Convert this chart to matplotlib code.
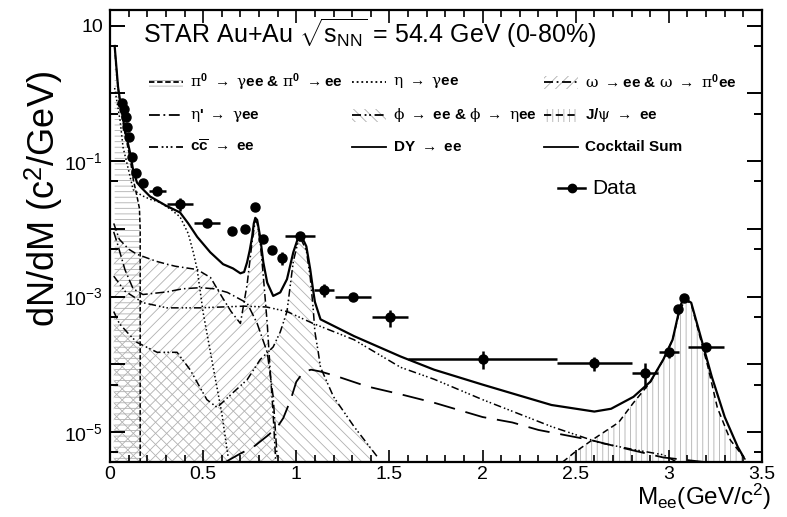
import matplotlib
matplotlib.use("Agg")
import matplotlib.pyplot as plt
from matplotlib.lines import Line2D
from matplotlib.patches import Rectangle
from matplotlib.ticker import MultipleLocator, FixedLocator, FuncFormatter, NullFormatter

plt.rcParams["font.family"] = "Liberation Sans"
plt.rcParams["mathtext.fontset"] = "custom"
plt.rcParams["mathtext.rm"] = "Liberation Sans"
plt.rcParams["mathtext.bf"] = "Liberation Sans:bold"
plt.rcParams["mathtext.it"] = "DejaVu Serif"
plt.rcParams["hatch.linewidth"] = 0.6
plt.rcParams["axes.linewidth"] = 1.6

# ---- data points (mass, dN/dM, errors) ----
data_m = [0.065, 0.075, 0.086, 0.091, 0.102, 0.118, 0.14, 0.177, 0.253, 0.376, 0.52,
          0.656, 0.726, 0.776, 0.823, 0.871, 0.925, 1.02, 1.15, 1.306, 1.505,
          2.0, 2.6, 2.87, 3.0, 3.05, 3.08, 3.2]
data_y = [0.73, 0.59, 0.45, 0.32, 0.23, 0.116, 0.067, 0.048, 0.036, 0.023, 0.012,
          0.0093, 0.0100, 0.021, 0.0071, 0.0049, 0.0037, 0.0079, 0.00126, 0.0010, 0.00049,
          1.2e-4, 1.05e-4, 7.4e-5, 1.5e-4, 6.6e-4, 9.5e-4, 1.8e-4]
data_xerr = [0, 0, 0, 0, 0, 0, 0, 0, 0.045, 0.07, 0.07,
             0, 0, 0, 0, 0, 0, 0.08, 0.054, 0.096, 0.096,
             0.4, 0.2, 0.07, 0.054, 0, 0, 0.096]
data_yerr = [0.02, 0.02, 0.015, 0.01, 0.008, 0.004, 0.003, 0.002, 0.002, 0.005, 0.0015,
             0.0008, 0.0008, 0.0015, 0.0008, 0.0007, 0.0008, 0.0006, 0.00028, 0.00012, 0.00014,
             3.5e-5, 2.5e-5, 3e-5, 2.5e-5, 5e-5, 5e-5, 2e-5]

# ---- cocktail components ----
pi0_m = [0.025, 0.043, 0.059, 0.08, 0.108, 0.124, 0.145, 0.158, 0.162, 0.162]
pi0_y = [4.7, 1.2, 0.58, 0.26, 0.11, 0.055, 0.03, 0.02, 0.01, 1e-7]

eta_m = [0.025, 0.054, 0.07, 0.09, 0.124, 0.17, 0.22, 0.27, 0.33, 0.376, 0.42, 0.447,
         0.468, 0.5, 0.554, 0.6, 0.634]
eta_y = [1.2, 0.4, 0.16, 0.095, 0.038, 0.031, 0.027, 0.0245, 0.019, 0.015, 0.0085, 0.0045,
         0.0025, 5.8e-4, 9e-5, 1.9e-5, 4.3e-6]

omega_m = [0.02, 0.05, 0.1, 0.145, 0.25, 0.306, 0.35, 0.468, 0.54, 0.6, 0.65, 0.7, 0.736,
           0.763, 0.78, 0.79, 0.806, 0.823, 0.844, 0.86, 0.875, 0.89]
omega_y = [0.012, 0.007, 0.005, 0.0042, 0.0033, 0.0030, 0.0028, 0.0025, 0.0019, 0.001,
           6e-4, 4e-4, 1.5e-3, 6.5e-3, 0.0132, 0.0122, 6.5e-3, 2e-3, 4e-4, 8e-5, 2e-5, 3.6e-6]

etap_m = [0.02, 0.04, 0.08, 0.124, 0.177, 0.306, 0.39, 0.484, 0.56, 0.63, 0.736, 0.79,
          0.844, 0.876, 0.897]
etap_y = [9e-3, 6e-3, 2.5e-3, 1.3e-3, 1.07e-3, 1.17e-3, 1.3e-3, 1.35e-3, 1.3e-3, 1.15e-3,
          8e-4, 4e-4, 1.5e-4, 3.3e-5, 4.3e-6]

phi_m = [0.02, 0.05, 0.1, 0.145, 0.253, 0.36, 0.43, 0.52, 0.575, 0.66, 0.736, 0.806, 0.876,
         0.914, 0.95, 0.984, 1.01, 1.02, 1.03, 1.054, 1.075, 1.09, 1.10, 1.118, 1.13, 1.2,
         1.31, 1.435]
phi_y = [6e-4, 4e-4, 2.8e-4, 2.1e-4, 1.5e-4, 1.5e-4, 8.3e-5, 3e-5, 2.3e-5, 3.8e-5, 5.9e-5,
         1.17e-4, 1.8e-4, 3e-4, 6e-4, 3.3e-3, 6.5e-3, 6.7e-3, 6.6e-3, 4.8e-3, 1.9e-3, 7e-4,
         3e-4, 1.5e-4, 9e-5, 3.3e-5, 1.2e-5, 4.3e-6]

jpsi_m = [2.43, 2.49, 2.6, 2.73, 2.81, 2.9, 2.97, 3.02, 3.06, 3.09, 3.12, 3.16, 3.21,
          3.26, 3.33, 3.4, 3.42]
jpsi_y = [3.6e-6, 4.9e-6, 8e-6, 1.38e-5, 2.7e-5, 5.4e-5, 1.17e-4, 2.3e-4, 6.5e-4, 8.9e-4,
          7.8e-4, 3.0e-4, 9.1e-5, 2.3e-5, 7.6e-6, 4.3e-6, 3.6e-6]

ccbar_m = [0.02, 0.08, 0.177, 0.306, 0.484, 0.6, 0.72, 0.84, 0.95, 1.09, 1.31, 1.56, 1.74,
           2.0, 2.37, 2.63, 2.81, 2.97, 3.05]
ccbar_y = [2e-3, 1.2e-3, 8.1e-4, 6.8e-4, 6.8e-4, 7e-4, 7.2e-4, 7e-4, 6e-4, 4e-4, 2.3e-4,
           9e-5, 6e-5, 3e-5, 1.2e-5, 6.9e-6, 5.5e-6, 4.6e-6, 3.5e-6]

dy_m = [0.62, 0.7, 0.77, 0.85, 0.9, 0.93, 0.97, 1.0, 1.04, 1.08, 1.13, 1.22, 1.38, 1.56,
        1.74, 2.0, 2.16, 2.3, 2.58, 2.73, 2.97, 3.19]
dy_y = [3.6e-6, 4.8e-6, 6e-6, 9e-6, 1.2e-5, 1.6e-5, 3e-5, 5.5e-5, 7.8e-5, 8.3e-5, 7.8e-5,
        6.6e-5, 4.7e-5, 3.6e-5, 2.7e-5, 1.66e-5, 1.38e-5, 1.07e-5, 7.6e-6, 6e-6, 4.2e-6, 3.6e-6]

sum_m = [0.025, 0.043, 0.059, 0.08, 0.108, 0.124, 0.145, 0.17, 0.215, 0.3, 0.376, 0.42,
         0.468, 0.538, 0.607, 0.66, 0.70, 0.72, 0.736, 0.75, 0.763, 0.772, 0.78, 0.79,
         0.806, 0.823, 0.844, 0.876, 0.914, 0.95, 0.984, 1.01, 1.03, 1.054, 1.075, 1.09,
         1.10, 1.13, 1.31, 1.56, 1.74, 2.0, 2.19, 2.37, 2.6, 2.69, 2.81, 2.9, 2.97, 3.02,
         3.06, 3.08, 3.12, 3.17, 3.23, 3.30, 3.37, 3.40]
sum_y = [5.0, 1.26, 0.63, 0.29, 0.132, 0.074, 0.048, 0.040, 0.030, 0.022, 0.0174, 0.012,
         0.0076, 0.0045, 0.0030, 0.0026, 0.0022, 0.0023, 0.0032, 0.0048, 0.0076, 0.012,
         0.0145, 0.0135, 0.0076, 0.0032, 0.0016, 0.00102, 0.00115, 0.0018, 0.0045, 0.0074,
         0.0076, 0.0055, 0.0025, 0.00126, 8.3e-4, 4.6e-4, 2.6e-4, 1.3e-4, 8.3e-5, 5.0e-5,
         3.5e-5, 2.5e-5, 2.0e-5, 2.2e-5, 3.3e-5, 5.5e-5, 1.17e-4, 2.3e-4, 7.1e-4, 9.5e-4,
         8.1e-4, 2.6e-4, 6.6e-5, 1.66e-5, 6.0e-6, 4.3e-6]

W, H = 787, 517
HATCH = "#b0b0b0"
FLOOR = 1e-7

fig = plt.figure(figsize=(W / 100, H / 100), dpi=100)
ax = fig.add_axes([110 / W, 1 - 462 / H, (762 - 110) / W, (462 - 10) / H])
ax.set_yscale("log")


def band(x, y, hatch, dashes, lw=1.1):
    ax.fill_between(x, y, FLOOR, facecolor="none", edgecolor=HATCH, hatch=hatch,
                    linewidth=0, zorder=1)
    ax.plot(x, y, color="k", lw=lw, dashes=dashes, zorder=2)


# styles
ST_PI0 = (3, 1.5)
ST_ETA = (1, 1.6)
ST_OMEGA = (5, 2, 1, 2)
ST_ETAP = (6, 2, 1, 2)
ST_PHI = (5, 2, 1, 1.5, 1, 2)
ST_JPSI = (4, 2.5)
ST_CC = (5, 2, 1, 1.5, 1, 1.5, 1, 2)
ST_DY = (12, 6)

band(pi0_m, pi0_y, "---", ST_PI0)
band(omega_m, omega_y, "///", ST_OMEGA)
band(phi_m, phi_y, "\\\\\\", ST_PHI)
band(jpsi_m, jpsi_y, "|||", ST_JPSI)
ax.plot(eta_m, eta_y, color="k", lw=1.1, dashes=ST_ETA, zorder=2)
ax.plot(etap_m, etap_y, color="k", lw=1.1, dashes=ST_ETAP, zorder=2)
ax.plot(ccbar_m, ccbar_y, color="k", lw=1.1, dashes=ST_CC, zorder=2)
ax.plot(dy_m, dy_y, color="k", lw=1.3, dashes=ST_DY, zorder=2)
ax.plot(sum_m, sum_y, color="k", lw=1.6, zorder=3)

ax.errorbar(data_m, data_y, xerr=data_xerr, yerr=data_yerr, fmt="o", color="k",
            ms=6.5, elinewidth=1.8, capsize=0, zorder=5)

ax.set_xlim(0, 3.5)
ax.set_ylim(3.6e-6, 17)
ax.xaxis.set_major_locator(MultipleLocator(0.5))
ax.xaxis.set_minor_locator(MultipleLocator(0.1))
ax.xaxis.set_major_formatter(FuncFormatter(lambda v, p: f"{v:g}"))

decades = [1e-5, 1e-4, 1e-3, 1e-2, 1e-1, 1, 10]
fives = [5e-6, 5e-5, 5e-4, 5e-3, 5e-2, 0.5, 5]
ylabels = {10: "10", 0.1: r"10$^{-1}$", 1e-3: r"10$^{-3}$", 1e-5: r"10$^{-5}$"}


def ylab(v, pos):
    for k, s in ylabels.items():
        if abs(v / k - 1) < 1e-6:
            return s
    return ""


ax.yaxis.set_major_locator(FixedLocator(decades))
ax.yaxis.set_minor_locator(FixedLocator(fives))
ax.yaxis.set_major_formatter(FuncFormatter(ylab))
ax.yaxis.set_minor_formatter(NullFormatter())
ax.tick_params(which="both", direction="in", top=True, right=True, labelsize=14)
ax.tick_params(axis="y", which="major", length=11, width=1.4, pad=5)
ax.tick_params(axis="y", which="minor", length=6, width=1.4)
ax.tick_params(axis="x", which="major", length=9, width=1.2, pad=3)
ax.tick_params(axis="x", which="minor", length=5, width=1.2)

# ---- texts ----
fig.text(143 / W, 1 - 43 / H, r"STAR Au+Au $\sqrt{\mathrm{s}_{\mathrm{NN}}}$ = 54.4 GeV (0-80%)",
         fontsize=18, ha="left", va="baseline")
fig.text(44 / W, 1 - 199 / H, r"dN/dM (c$^{\mathrm{2}}$/GeV)", rotation=90,
         fontsize=26, ha="center", va="center")
fig.text(771 / W, 1 - 505 / H, r"M$_{\mathrm{ee}}$(GeV/c$^{\mathrm{2}}$)",
         fontsize=17.5, ha="right", va="baseline")

# ---- legend (drawn by hand to match the three-column layout) ----
entries = [
    (149, 82, r"$\pi^{\mathbf{0}}$ $\rightarrow$ $\gamma$ee & $\pi^{\mathbf{0}}$ $\rightarrow$ee", "---", ST_PI0),
    (352, 82, r"$\eta$ $\rightarrow$ $\gamma$ee", None, ST_ETA),
    (544, 82, r"$\omega$ $\rightarrow$ee & $\omega$ $\rightarrow$ $\pi^{\mathbf{0}}$ee", "///", ST_OMEGA),
    (149, 115, r"$\eta$' $\rightarrow$ $\gamma$ee", None, ST_ETAP),
    (352, 115, r"$\phi$ $\rightarrow$ ee & $\phi$ $\rightarrow$ $\eta$ee", "\\\\\\", ST_PHI),
    (544, 115, r"J/$\psi$ $\rightarrow$ ee", "|||", ST_JPSI),
    (149, 147, r"c$\overline{\mathbf{c}}$ $\rightarrow$ ee", None, ST_CC),
    (352, 147, r"DY $\rightarrow$ ee", None, None),
    (544, 147, "Cocktail Sum", None, None),
]
HW, HH = 34, 13
for x0, y0, label, hatch, dashes in entries:
    fx, fy = x0 / W, 1 - y0 / H
    if hatch:
        fig.add_artist(Rectangle((fx, fy - HH / 2 / H), HW / W, HH / H, transform=fig.transFigure,
                                 facecolor="none", edgecolor=HATCH, hatch=hatch, linewidth=0))
    ln = Line2D([fx, fx + HW / W], [fy, fy], transform=fig.transFigure, color="k", lw=1.3)
    if dashes:
        ln.set_dashes(dashes)
    fig.add_artist(ln)
    fig.text(fx + (HW + 7) / W, fy, label, fontsize=11, fontweight="bold", ha="left", va="center")

fig.add_artist(Line2D([558 / W, 585 / W], [1 - 188 / H, 1 - 188 / H], transform=fig.transFigure,
                      color="k", lw=1.8))
fig.add_artist(Line2D([572 / W], [1 - 188 / H], transform=fig.transFigure, color="k",
                      marker="o", ms=6))
fig.text(592 / W, 1 - 188 / H, "Data", fontsize=15, ha="left", va="center")

fig.savefig("out.png", dpi=100)
